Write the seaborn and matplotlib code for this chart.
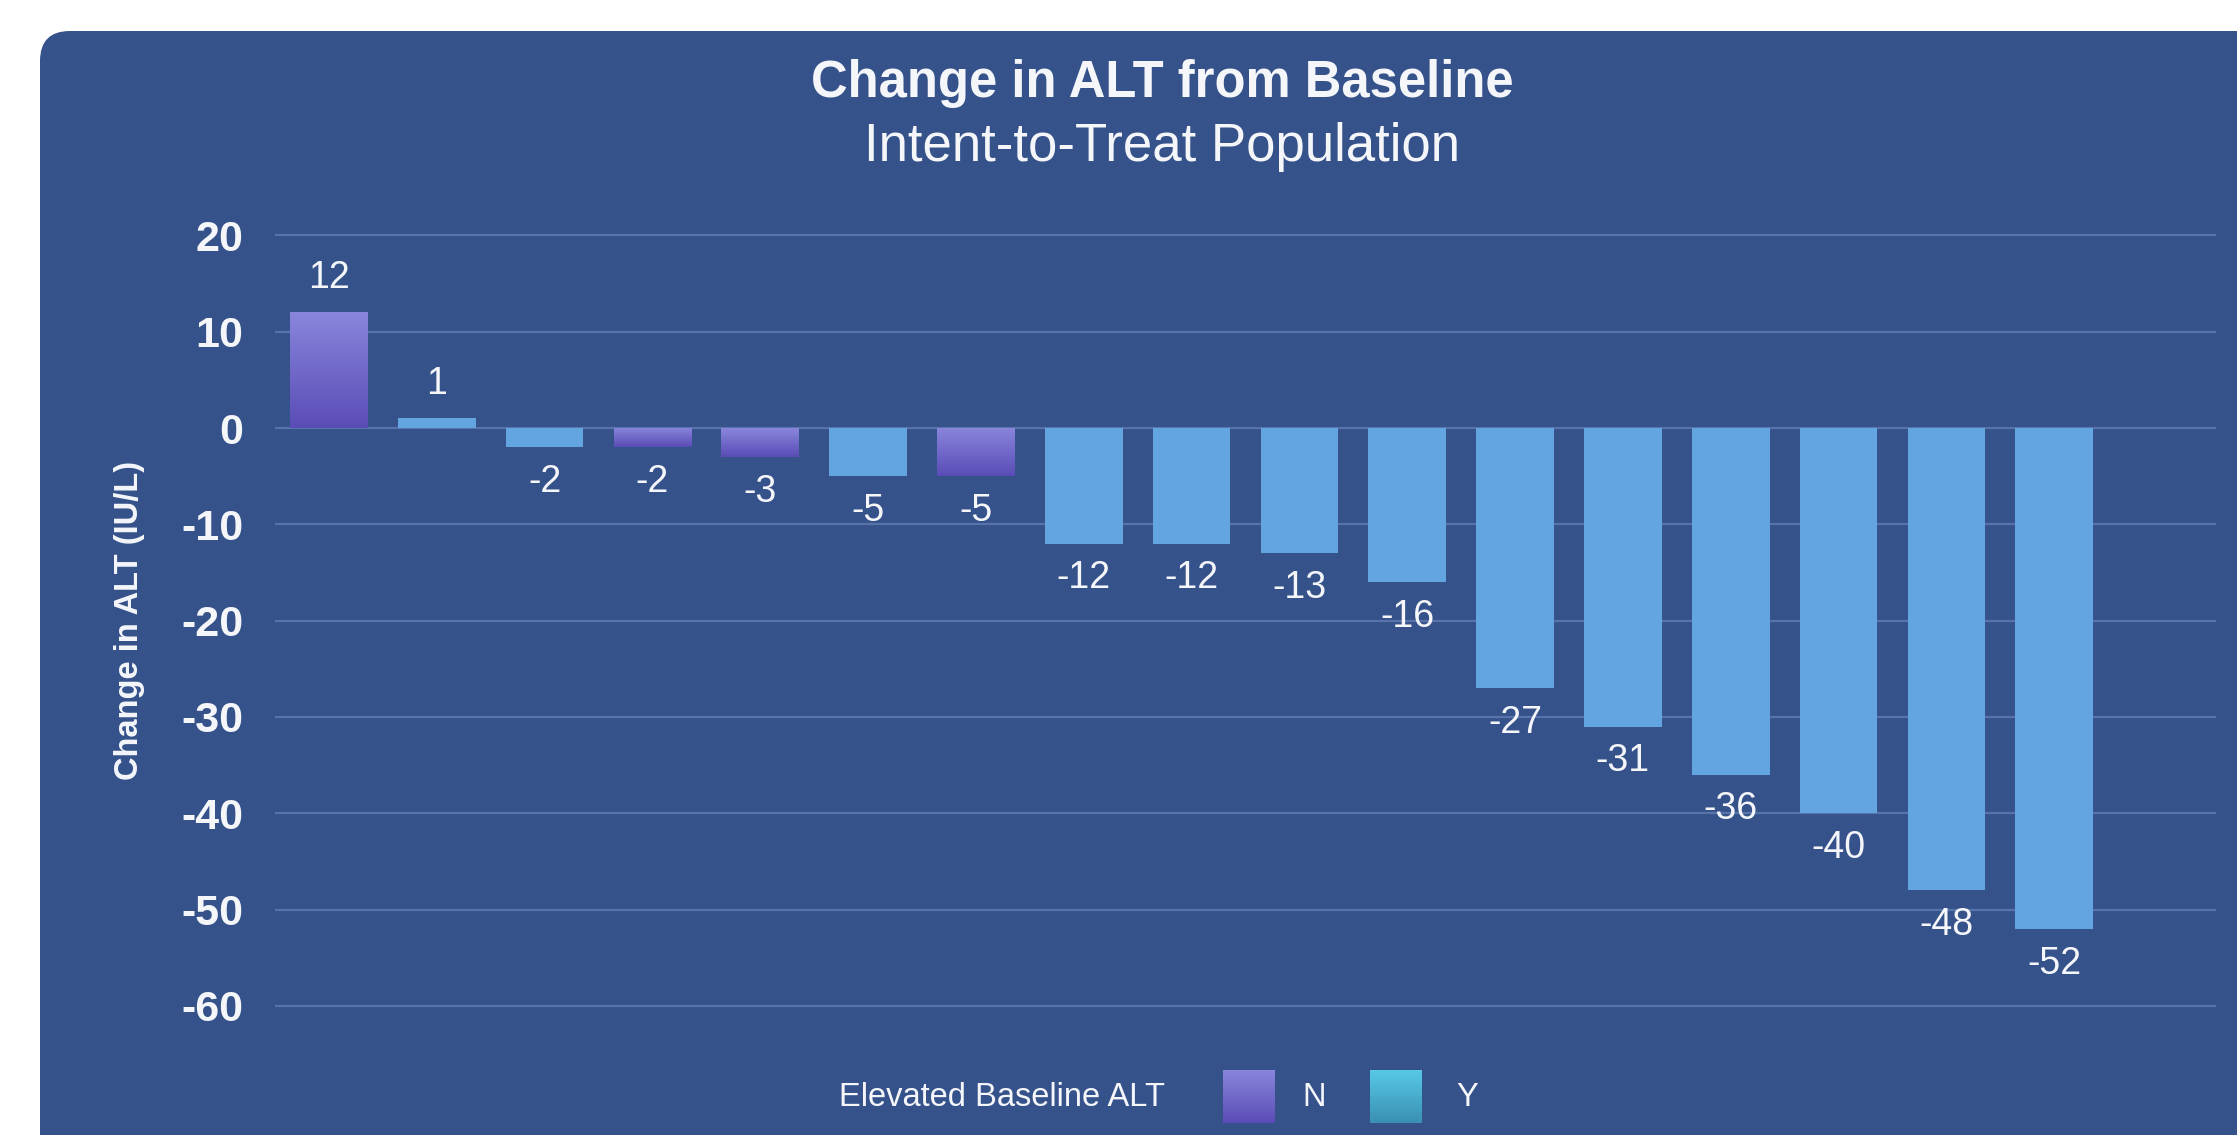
"""
Waterfall chart of the change in ALT from baseline (Intent-to-Treat Population).
"""

# Library importation
import numpy as np                                                          # Arrays for the gradients.
import pandas as pd                                                         # Data handling.
import seaborn as sns                                                       # Bar plot.
import matplotlib.pyplot as plt                                             # Figure and text.
from matplotlib.colors import LinearSegmentedColormap                       # Gradient colours for the bars.
from matplotlib.patches import FancyBboxPatch                               # Rounded background panel.
from matplotlib.transforms import IdentityTransform                         # Pixel coordinates for the panel.

# Data
patients      = [f"P{i:02d}" for i in range(1, 18)]
alt_change    = [12, 1, -2, -2, -3, -5, -5, -12, -12, -13, -16, -27, -31, -36, -40, -48, -52]
elevated_alt  = ["N", "Y", "Y", "N", "N", "Y", "N", "Y", "Y", "Y", "Y", "Y", "Y", "Y", "Y", "Y", "Y"]
y_ticks       = [20, 10, 0, -10, -20, -30, -40, -50, -60]

# Colours
panel_color   = "#36528A"
grid_color    = "#5873AA"
text_color    = "#F4F6FA"
bar_y_color   = "#63A5E0"
grad_n        = LinearSegmentedColormap.from_list("grad_n", ["#5A4CB6", "#8986DC"])
grad_y_legend = LinearSegmentedColormap.from_list("grad_y", ["#3A90B2", "#57C8E8"])

font_name = "Liberation Sans"
plt.rcParams["axes.unicode_minus"] = False                                  # Plain hyphen as in the original.

df = pd.DataFrame({"patient": patients, "change": alt_change, "elevated": elevated_alt})

# Figure and rounded background panel
W, H, DPI = 2237, 1135, 100
fig = plt.figure(figsize=(W / DPI, H / DPI), dpi=DPI, facecolor="white")
panel = FancyBboxPatch((40, -60), W, H - 31 + 60, boxstyle="round,pad=0,rounding_size=30",
                       transform=IdentityTransform(), facecolor=panel_color, edgecolor="none", zorder=-5)
fig.patches.append(panel)

# Axes placed inside the panel (pixel positions converted to figure fraction)
ax = fig.add_axes([275 / W, 1 - 1025.2 / H, (2216 - 275) / W, (1025.2 - 216.1) / H])
ax.set_facecolor("none")

sns.barplot(data=df, x="patient", y="change", hue="elevated", hue_order=["N", "Y"],
            order=patients, palette={"N": "#7068C8", "Y": bar_y_color},
            dodge=False, width=0.72, saturation=1, legend=False, ax=ax, zorder=3)

# Gradient fill for the "N" bars
for bar in ax.containers[0]:
    x0, y0 = bar.get_x(), bar.get_y()
    x1, y1 = x0 + bar.get_width(), y0 + bar.get_height()
    bottom, top = min(y0, y1), max(y0, y1)
    grad = np.linspace(1, 0, 256).reshape(-1, 1)
    im = ax.imshow(grad, extent=(x0, x1, bottom, top), origin="upper", cmap=grad_n,
                   aspect="auto", zorder=3, interpolation="bicubic")
    im.set_clip_path(bar)
    bar.set_facecolor("none")
    bar.set_edgecolor("none")

# Value labels
for container in ax.containers:
    ax.bar_label(container, fmt="%g", padding=12, color=text_color, fontsize=27, family=font_name)

# Axes styling
ax.set_xlim(-0.5, 17.5)
ax.set_ylim(-62, 22)
ax.set_yticks(y_ticks)
ax.set_xticks([])
ax.set_xlabel("")
ax.grid(axis="y", color=grid_color, linewidth=1.6, zorder=0)
ax.set_axisbelow(True)
for side in ax.spines:
    ax.spines[side].set_visible(False)
ax.tick_params(axis="y", length=0, pad=23, labelcolor=text_color, labelsize=31)
for lab in ax.get_yticklabels():
    lab.set_fontweight("bold")
    lab.set_family(font_name)
ax.set_ylabel("Change in ALT (IU/L)", color=text_color, fontsize=23.5, fontweight="bold", family=font_name)
ax.yaxis.set_label_coords(-0.067, 0.5)

# Titles
fig.text(1162 / W, 1 - 83 / H, "Change in ALT from Baseline", ha="center", va="center",
         color=text_color, fontsize=36.5, fontweight="bold", family=font_name)
fig.text(1162 / W, 1 - 147 / H, "Intent-to-Treat Population", ha="center", va="center",
         color=text_color, fontsize=38, family=font_name)

# Legend
fig.text(839 / W, 1 - 1097 / H, "Elevated Baseline ALT", ha="left", va="center",
         color=text_color, fontsize=23.5, family=font_name)
for left, cmap, label, text_x in [(1223, grad_n, "N", 1314), (1370, grad_y_legend, "Y", 1467)]:
    lax = fig.add_axes([left / W, 1 - 1123 / H, 52 / W, 53 / H])
    lax.imshow(np.linspace(1, 0, 256).reshape(-1, 1), cmap=cmap, aspect="auto", origin="upper")
    lax.axis("off")
    fig.text(text_x / W, 1 - 1097 / H, label, ha="center", va="center",
             color=text_color, fontsize=23.5, family=font_name)

fig.savefig("out.png", dpi=DPI, facecolor="white")
